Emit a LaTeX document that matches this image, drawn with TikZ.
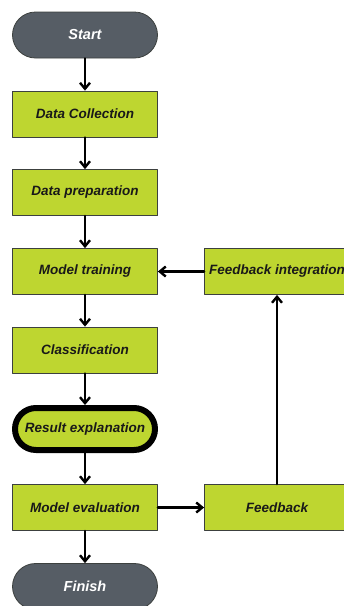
\documentclass[tikz,border=0pt]{standalone}
\usepackage{fontspec}
\setmainfont{Liberation Sans}
\usetikzlibrary{arrows.meta}
\definecolor{flowgreen}{RGB}{190,214,48}
\definecolor{flowgray}{RGB}{86,93,101}
\definecolor{flowedge}{RGB}{60,64,62}

\begin{document}
\begin{tikzpicture}[x=1pt,y=-1pt,>={Straight Barb[length=6pt,width=10pt]},line cap=round,line join=round,
 stepbox/.style={draw=flowedge,line width=0.8pt,fill=flowgreen,minimum width=145pt,minimum height=46pt,
  inner sep=0pt,font=\fontsize{13.5}{15}\selectfont\bfseries\itshape,text=black!90},
 terminal/.style={stepbox,fill=flowgray,rounded corners=23pt,text=white,font=\fontsize{14.5}{16}\selectfont\bfseries\itshape},
 focus/.style={stepbox,draw=black,line width=6pt,rounded corners=21pt,minimum width=140pt,minimum height=42pt},
 flow/.style={->,line width=2.4pt,black}]
 \useasboundingbox (0,0) rectangle (344,606);
 \clip (0,0) rectangle (344,606);
 % left column
 \node[terminal] (start) at (85,35) {Start};
 \node[stepbox] (collect) at (85,114) {Data Collection};
 \node[stepbox] (prep) at (85,192.5) {Data preparation};
 \node[stepbox] (train) at (85,271.5) {Model training};
 \node[stepbox] (classify) at (85,350) {Classification};
 \node[focus] (explain) at (85,429) {Result explanation};
 \node[stepbox] (evaluate) at (85,507.5) {Model evaluation};
 \node[terminal] (finish) at (85,586.5) {Finish};
 % right column
 \node[stepbox] (integrate) at (277,271.5) {Feedback integration};
 \node[stepbox] (feedback) at (277,507.5) {Feedback};
 % connectors
 \draw[flow] (start) -- (collect);
 \draw[flow] (collect) -- (prep);
 \draw[flow] (prep) -- (train);
 \draw[flow] (train) -- (classify);
 \draw[flow] (classify) -- (explain);
 \draw[flow] (explain) -- (evaluate);
 \draw[flow] (evaluate) -- (finish);
 \draw[flow] (evaluate) -- (feedback);
 \draw[flow] (feedback) -- (integrate);
 \draw[flow] (integrate) -- (train);
\end{tikzpicture}
\end{document}
